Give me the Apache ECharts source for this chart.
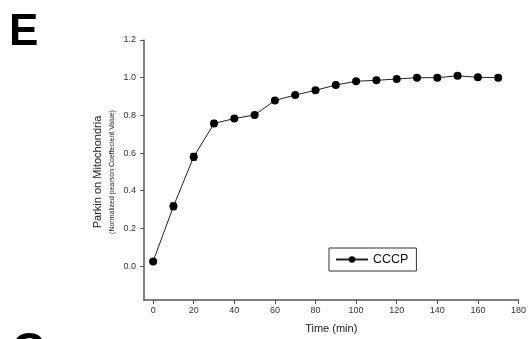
<!DOCTYPE html>
<html>
<head>
<meta charset="utf-8">
<script src="https://cdn.jsdelivr.net/npm/echarts@6/dist/echarts.min.js"></script>
<style>
  html, body { margin: 0; padding: 0; background: #fff; }
  #chart { width: 529px; height: 339px; }
</style>
</head>
<body>
<div id="chart"></div>
<script>
// time points (min)
const times = [0, 10, 20, 30, 40, 50, 60, 70, 80, 90, 100, 110, 120, 130, 140, 150, 160, 170];
// normalized pearson coefficient
const cccp = [0.025, 0.317, 0.58, 0.757, 0.783, 0.802, 0.879, 0.908, 0.933, 0.961, 0.981, 0.986, 0.993, 1.0, 1.0, 1.01, 1.002, 1.0];
// error (+/-)
const cccpErr = [0.008, 0.018, 0.018, 0.016, 0.01, 0.008, 0.008, 0.006, 0.006, 0.006, 0.006, 0.006, 0.006, 0.006, 0.006, 0.008, 0.006, 0.012];
const xTicks = [0, 20, 40, 60, 80, 100, 120, 140, 160, 180];
const yTicks = [0, 0.2, 0.4, 0.6, 0.8, 1.0, 1.2];

const font = "Arial, 'Liberation Sans', sans-serif";
const axisColor = "#555";

const chart = echarts.init(document.getElementById("chart"));

const lineData = times.map((t, i) => [t, cccp[i]]);
const errData = times.map((t, i) => [t, cccp[i] - cccpErr[i], cccp[i] + cccpErr[i]]);

chart.setOption({
  backgroundColor: "#fff",
  animation: false,
  grid: { left: 144, right: 10, top: 40, bottom: 36 },
  xAxis: {
    type: "value",
    min: -4.5,
    max: 180,
    axisLine: { show: true, onZero: false, lineStyle: { color: axisColor, width: 1.5 } },
    axisTick: { show: true, inside: false, length: 4, customValues: xTicks, lineStyle: { color: axisColor } },
    axisLabel: { customValues: xTicks, color: "#333", fontSize: 9, fontFamily: font, margin: 6 },
    splitLine: { show: false },
    name: "Time (min)",
    nameLocation: "middle",
    nameGap: 23,
    nameTextStyle: { color: "#222", fontSize: 11, fontFamily: font }
  },
  yAxis: {
    type: "value",
    min: -0.18,
    max: 1.2,
    axisLine: { show: true, onZero: false, lineStyle: { color: axisColor, width: 1.5 } },
    axisTick: { show: true, inside: false, length: 4, customValues: yTicks, lineStyle: { color: axisColor } },
    axisLabel: {
      customValues: yTicks,
      color: "#333",
      fontSize: 9,
      fontFamily: font,
      margin: 8,
      formatter: v => v.toFixed(1)
    },
    splitLine: { show: false }
  },
  legend: {
    data: ["CCCP"],
    left: 329,
    top: 248,
    width: 90,
    height: 22,
    borderColor: "#333",
    borderWidth: 1,
    borderRadius: 0,
    padding: [5, 8, 5, 6],
    itemWidth: 32,
    itemHeight: 8,
    itemGap: 5,
    textStyle: { color: "#111", fontSize: 12.5, fontFamily: font }
  },
  graphic: [
    {
      type: "text",
      left: 9,
      top: 11,
      style: { text: "E", font: "bold 44px Arial, 'Liberation Sans', sans-serif", fill: "#000" }
    },
    {
      type: "text",
      left: 12,
      top: 330,
      style: { text: "G", font: "bold 44px Arial, 'Liberation Sans', sans-serif", fill: "#000" }
    },
    {
      type: "text",
      x: 98,
      y: 172,
      rotation: Math.PI / 2,
      style: {
        text: "Parkin on Mitochondria",
        font: "11px Arial, 'Liberation Sans', sans-serif",
        fill: "#222",
        align: "center",
        verticalAlign: "middle"
      }
    },
    {
      type: "text",
      x: 112,
      y: 172,
      rotation: Math.PI / 2,
      style: {
        text: "(Normalized pearson Coeffecient Value)",
        font: "7px Arial, 'Liberation Sans', sans-serif",
        fill: "#222",
        align: "center",
        verticalAlign: "middle"
      }
    }
  ],
  series: [
    {
      name: "CCCP",
      type: "line",
      data: lineData,
      symbol: "circle",
      symbolSize: 8,
      itemStyle: { color: "#000" },
      lineStyle: { color: "#222", width: 1 },
      z: 3
    },
    {
      name: "err",
      type: "custom",
      data: errData,
      z: 4,
      renderItem: (params, api) => {
        const x = api.value(0);
        const lo = api.coord([x, api.value(1)]);
        const hi = api.coord([x, api.value(2)]);
        const cap = 3;
        const style = { stroke: "#000", lineWidth: 1 };
        return {
          type: "group",
          children: [
            { type: "line", shape: { x1: lo[0], y1: lo[1], x2: hi[0], y2: hi[1] }, style },
            { type: "line", shape: { x1: lo[0] - cap, y1: lo[1], x2: lo[0] + cap, y2: lo[1] }, style },
            { type: "line", shape: { x1: hi[0] - cap, y1: hi[1], x2: hi[0] + cap, y2: hi[1] }, style }
          ]
        };
      }
    }
  ]
});
</script>
</body>
</html>
